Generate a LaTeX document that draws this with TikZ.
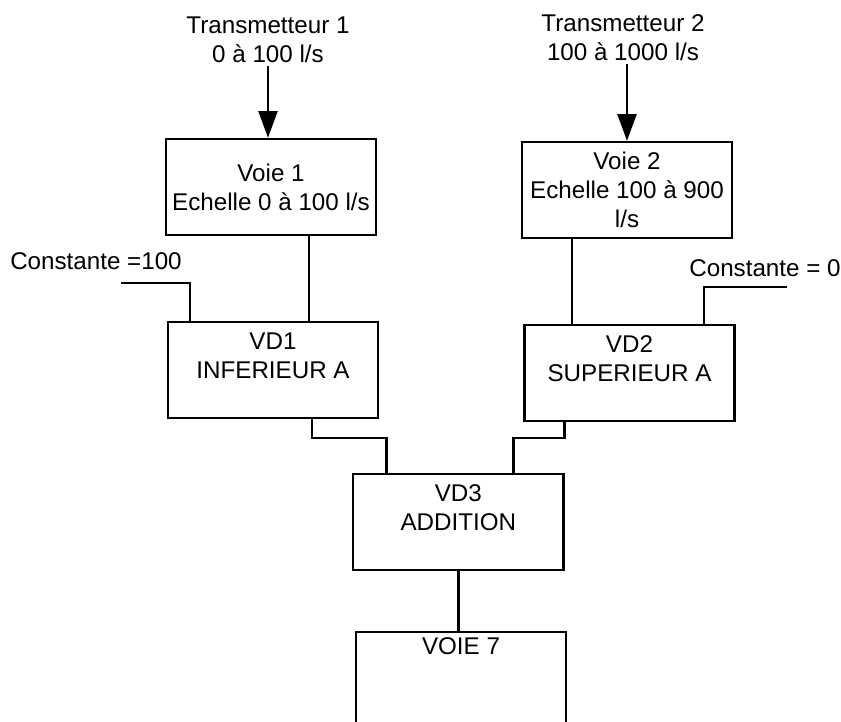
\documentclass[tikz,border=0pt]{standalone}
\usepackage{fontspec}
\setmainfont{Liberation Sans}
\usetikzlibrary{arrows.meta, calc, positioning}

\begin{document}
\begin{tikzpicture}[x=0.025cm,y=-0.025cm,line width=1.7pt,
	font=\fontsize{17.2}{20.6}\selectfont,
	bloc/.style={draw,minimum width=5.25cm,minimum height=2.4cm,inner sep=0pt,align=center},
	etiq/.style={align=center,inner sep=1pt}]
	\useasboundingbox (0,0) rectangle (841,722);
	\clip (0,0) rectangle (841,722);
	% les blocs
	\node[bloc] (voie1) at (271,187) {Voie 1\\Echelle 0 à 100 l/s};
	\node[bloc] (voie2) at (627,190) {Voie 2\\Echelle 100 à 900\\l/s};
	\node[bloc] (vd1) at (273,370) {VD1\\INFERIEUR A\\\mbox{}};
	\node[bloc] (vd2) at (629.5,373) {VD2\\SUPERIEUR A\\\mbox{}};
	\node[bloc] (vd3) at (458.3,522) {VD3\\ADDITION\\\mbox{}};
	\node[bloc,anchor=north,minimum height=0pt,text height=0.56cm,text depth=2.2cm] (voie7) at (461,631) {VOIE 7};
	% les entrees
	\node[etiq] (t1) at (268,40) {Transmetteur 1\\0 à 100 l/s};
	\node[etiq] (t2) at (623,38) {Transmetteur 2\\100 à 1000 l/s};
	\node[etiq] (k1) at (96,261) {Constante =100};
	\node[etiq] (k2) at (765,268) {Constante = 0};
	\coordinate (k1e) at (121,283);
	\coordinate (k2e) at (787,287);
	% les liaisons
	\draw[-{Triangle[length=19pt,width=13.5pt]}] (t1.south) -- (t1.south |- voie1.north);
	\draw[-{Triangle[length=19pt,width=13.5pt]}] (voie2.north |- t2.south) -- (voie2.north);
	\draw (k1e) -| ($(vd1.north west)+(23,0)$);
	\draw (k2e) -| ($(vd2.north)+(74.5,0)$);
	\draw ($(voie1.south)+(38,0)$) coordinate (v1o) -- (v1o |- vd1.north);
	\draw ($(voie2.south)+(-55,0)$) coordinate (v2o) -- (v2o |- vd2.north);
	\draw ($(vd1.south)+(39,0)$) -- ++(0,19) -| ($(vd3.north)+(-72,0)$);
	\draw ($(vd2.south)+(-65,0)$) -- ++(0,16) -| ($(vd3.north)+(55,0)$);
	\draw (vd3.south) -- (vd3.south |- voie7.north);
\end{tikzpicture}
\end{document}
